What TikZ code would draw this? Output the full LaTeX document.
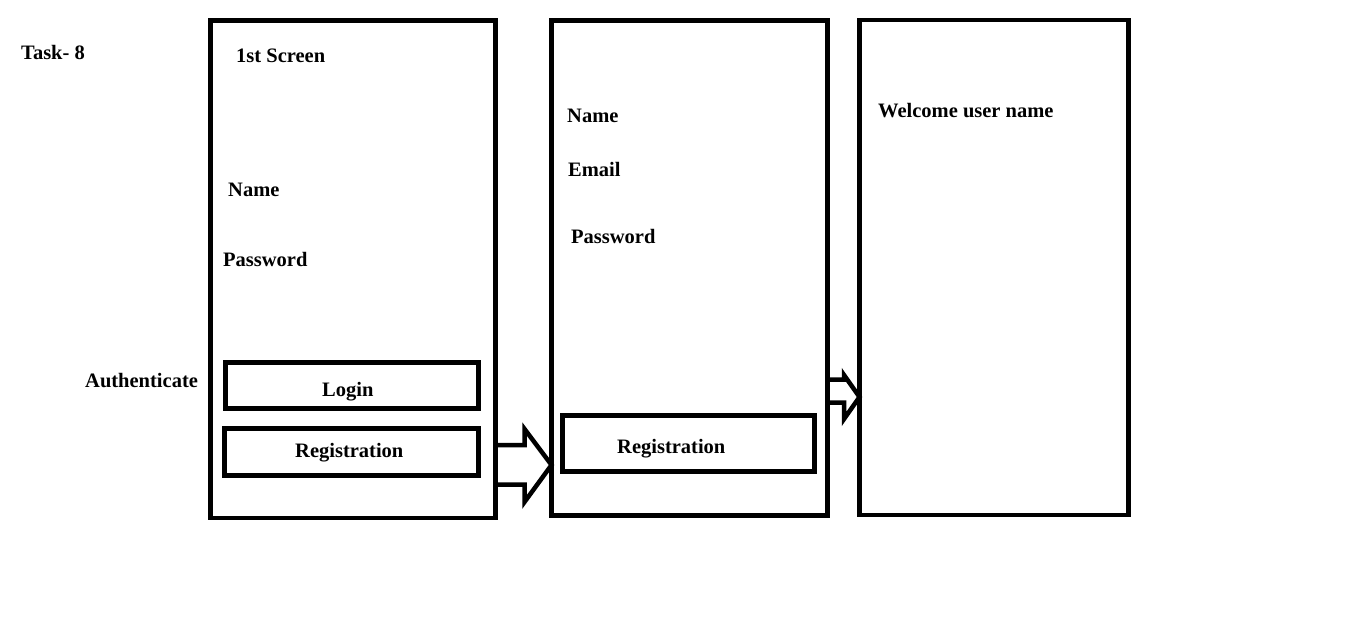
\documentclass[tikz,border=0pt]{standalone}
\usepackage{fontspec}
\setmainfont{Liberation Serif}
\begin{document}
\begin{tikzpicture}[x=1pt,y=-1pt,
  screen/.style={draw,line width=4.5pt,inner sep=0pt,outer sep=0pt},
  btn/.style={draw,line width=4.5pt,inner sep=0pt,outer sep=0pt},
  lbl/.style={anchor=base west,inner sep=0pt,font=\fontsize{20.5}{24}\selectfont\bfseries},
  blockarrow/.style={draw,line width=4.5pt,line join=miter}]
\useasboundingbox (0,0) rectangle (1360,624);
% screens
\node[screen,minimum width=285pt,minimum height=497.5pt] (s1) at (353,269.25) {};
\node[screen,minimum width=276pt,minimum height=495pt] (s2) at (689.5,268) {};
\node[screen,minimum width=269pt,minimum height=495pt] (s3) at (994,267.5) {};
% buttons
\node[btn,minimum width=253pt,minimum height=46pt] (login) at (352,385.5) {};
\node[btn,minimum width=254pt,minimum height=47pt] (reg1) at (351.5,452) {};
\node[btn,minimum width=252pt,minimum height=56pt] (reg2) at (688.5,443.5) {};
% texts
\node[lbl] (task) at (21,59) {Task- 8};
\node[lbl] (first) at (236,62) {1st Screen};
\node[lbl] (name1) at (228,196) {Name};
\node[lbl] (pass1) at (223,266) {Password};
\node[lbl] (auth) at (85,387) {Authenticate};
\node[lbl] (logint) at (322,396) {Login};
\node[lbl] (reg1t) at (295,457) {Registration};
\node[lbl] (name2) at (567,122) {Name};
\node[lbl] (email) at (568,176) {Email};
\node[lbl] (pass2) at (571,243) {Password};
\node[lbl] (reg2t) at (617,453) {Registration};
\node[lbl] (welc) at (878,117) {Welcome user name};
% block arrows
\draw[blockarrow] (s1.east |- 0,445) -- (524.5,445) -- (524.5,429) -- (s2.west |- 0,465)
  -- (524.5,502) -- (524.5,484.5) -- (s1.east |- 0,484.5);
\draw[blockarrow] (s2.east |- 0,379.5) -- (844,379.5) -- (844,375) -- (s3.west |- 0,397)
  -- (844,419) -- (844,402.5) -- (s2.east |- 0,402.5);
\end{tikzpicture}
\end{document}
